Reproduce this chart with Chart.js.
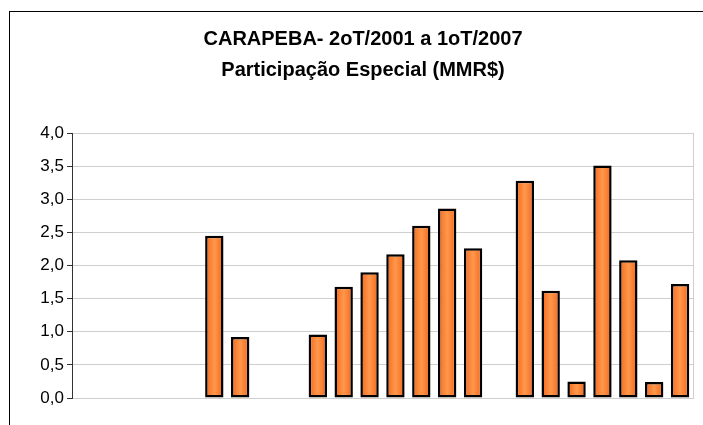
<!DOCTYPE html>
<html>
<head>
<meta charset="utf-8">
<script src="https://cdn.jsdelivr.net/npm/chart.js@4.4.0/dist/chart.umd.min.js"></script>
<style>
  html, body { margin: 0; padding: 0; background: #fff; }
  #wrap { width: 703px; height: 425px; }
</style>
</head>
<body>
<div id="wrap"><canvas id="chart"></canvas></div>
<script>
// quarters from 2oT/2001 to 1oT/2007
const quarters = [
  '2T/2001', '3T/2001', '4T/2001',
  '1T/2002', '2T/2002', '3T/2002', '4T/2002',
  '1T/2003', '2T/2003', '3T/2003', '4T/2003',
  '1T/2004', '2T/2004', '3T/2004', '4T/2004',
  '1T/2005', '2T/2005', '3T/2005', '4T/2005',
  '1T/2006', '2T/2006', '3T/2006', '4T/2006',
  '1T/2007'
];
// Participação Especial (MMR$)
const partEspecial = [
  null, null, null,
  null, null, 2.45, 0.92,
  null, null, 0.96, 1.68,
  1.90, 2.17, 2.60, 2.86,
  2.26, null, 3.28, 1.62,
  0.25, 3.51, 2.08, 0.24,
  1.72
];
const titleLines = ['CARAPEBA- 2oT/2001 a 1oT/2007', 'Participação Especial (MMR$)'];

const barPct = 0.71;

// light stripe in the middle of each bar
function barFill(ctx) {
  const chart = ctx.chart;
  const x = chart.scales.x;
  if (!x || ctx.dataIndex === undefined) return '#FF7F2A';
  const cx = x.getPixelForValue(ctx.dataIndex);
  const w = (x.width / quarters.length) * barPct;
  if (!isFinite(cx) || !isFinite(w) || w <= 0) return '#FF7F2A';
  const g = chart.ctx.createLinearGradient(cx - w / 2, 0, cx + w / 2, 0);
  g.addColorStop(0, '#F2661A');
  g.addColorStop(0.5, '#FF984C');
  g.addColorStop(1, '#F2661A');
  return g;
}

const frame = {
  id: 'frame',
  beforeDraw(chart) {
    const c = chart.ctx;
    c.save();
    c.fillStyle = '#fff';
    c.fillRect(0, 0, chart.width, chart.height);
    c.strokeStyle = '#000';
    c.lineWidth = 1;
    c.strokeRect(9.5, 11.5, chart.width + 10, chart.height + 10);
    c.restore();
  },
  beforeDatasetsDraw(chart) {
    const a = chart.chartArea;
    const c = chart.ctx;
    c.save();
    c.strokeStyle = '#cfcfcf';
    c.lineWidth = 1;
    c.beginPath();
    c.moveTo(Math.round(a.right) + 0.5, a.top);
    c.lineTo(Math.round(a.right) + 0.5, a.bottom);
    c.stroke();
    c.restore();
  }
};

new Chart(document.getElementById('chart'), {
  type: 'bar',
  data: {
    labels: quarters,
    datasets: [{
      label: 'Participação Especial (MMR$)',
      data: partEspecial,
      backgroundColor: barFill,
      borderColor: '#000',
      borderWidth: 2.5,
      borderSkipped: false,
      barPercentage: barPct,
      categoryPercentage: 1
    }]
  },
  options: {
    responsive: true,
    maintainAspectRatio: false,
    animation: false,
    layout: { padding: { left: 33, right: 10, top: 0, bottom: 27 } },
    plugins: {
      legend: { display: false },
      tooltip: { enabled: false },
      title: {
        display: true,
        text: titleLines,
        color: '#000',
        font: { family: 'Liberation Sans, Arial, sans-serif', size: 20, weight: 'bold', lineHeight: 1.55 },
        padding: { top: 24, bottom: 47 }
      }
    },
    scales: {
      x: {
        ticks: { display: false },
        grid: { display: false },
        border: { display: true, color: '#cfcfcf' },
        afterFit(s) { s.height = 0; }
      },
      y: {
        min: 0,
        max: 4,
        ticks: {
          stepSize: 0.5,
          color: '#000',
          padding: 3,
          font: { family: 'Liberation Sans, Arial, sans-serif', size: 17 },
          callback: v => v.toFixed(1).replace('.', ',')
        },
        grid: { color: '#cfcfcf', tickColor: '#333', tickLength: 5 },
        border: { color: '#333' },
        afterFit(s) { s.width = 39; }
      }
    }
  },
  plugins: [frame]
});
</script>
</body>
</html>
